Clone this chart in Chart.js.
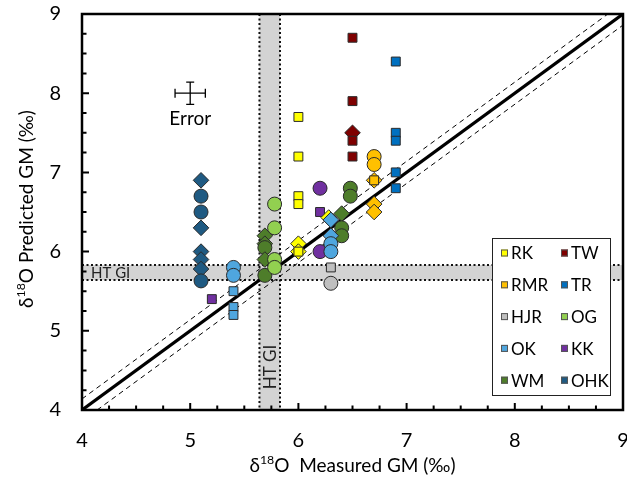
<!DOCTYPE html>
<html>
<head>
<meta charset="utf-8">
<title>δ18O predicted vs measured GM</title>
<script src="https://cdn.jsdelivr.net/npm/chart.js@4.4.0/dist/chart.umd.min.js"></script>
<style>
  body { margin: 0; background: #fff; }
  #chart { display: block; }
</style>
</head>
<body>
<canvas id="chart" width="627" height="479"></canvas>
<script>
const FONT = "Lato, 'Open Sans', sans-serif";

// Sites in legend order (read row by row)
const sites = ["RK", "TW", "RMR", "TR", "HJR", "OG", "OK", "KK", "WM", "OHK"];
const siteColors = ["#ffff00", "#7f0000", "#ffc000", "#0070c0", "#bfbfbf",
                    "#92d050", "#4fa6de", "#7030a0", "#4e7d2a", "#1f5a82"];

// Marker shapes: s = square, c = circle, d = diamond
const rkX = [6.0, 6.0, 6.0, 6.0, 6.28, 6.0, 6.0, 6.0];
const rkY = [7.7, 7.2, 6.7, 6.6, 6.43, 6.1, 6.0, 6.0];
const rkShape = ["s", "s", "s", "s", "d", "d", "d", "s"];

const twX = [6.5, 6.5, 6.5, 6.5, 6.5];
const twY = [8.7, 7.9, 7.5, 7.4, 7.2];
const twShape = ["s", "s", "d", "s", "s"];

const rmrX = [6.7, 6.7, 6.7, 6.7, 6.7, 6.7];
const rmrY = [7.2, 7.1, 6.9, 6.9, 6.6, 6.5];
const rmrShape = ["c", "c", "d", "s", "d", "d"];

const trX = [6.9, 6.9, 6.9, 6.9, 6.9];
const trY = [8.4, 7.5, 7.4, 7.0, 6.8];
const trShape = ["s", "s", "s", "s", "s"];

const hjrX = [6.3, 6.3];
const hjrY = [5.8, 5.6];
const hjrShape = ["s", "c"];

const ogX = [5.78, 5.78, 5.78, 5.78];
const ogY = [6.6, 6.3, 5.9, 5.8];
const ogShape = ["c", "c", "c", "c"];

const okX = [5.4, 5.4, 5.4, 5.4, 5.4, 6.3, 6.3, 6.3, 6.3];
const okY = [5.8, 5.7, 5.5, 5.3, 5.2, 6.4, 6.2, 6.1, 6.0];
const okShape = ["c", "c", "s", "s", "s", "d", "d", "c", "c"];

const kkX = [6.2, 6.2, 6.2, 5.2];
const kkY = [6.8, 6.5, 6.0, 5.4];
const kkShape = ["c", "s", "c", "s"];

const wmX = [5.69, 5.69, 5.69, 5.69, 5.69, 6.4, 6.4, 6.4, 6.48, 6.48];
const wmY = [6.2, 6.1, 6.05, 5.9, 5.7, 6.48, 6.3, 6.2, 6.8, 6.7];
const wmShape = ["d", "d", "c", "d", "c", "d", "c", "c", "c", "c"];

const ohkX = [5.1, 5.1, 5.1, 5.1, 5.1, 5.1, 5.1, 5.1];
const ohkY = [6.9, 6.7, 6.5, 6.3, 6.0, 5.9, 5.78, 5.63];
const ohkShape = ["d", "c", "c", "d", "d", "d", "d", "c"];

// 1:1 line and its dashed envelope
const oneToOneX = [4, 9];
const oneToOneY = [4, 9];
const upperX = [4, 8.86];
const upperY = [4.14, 9];
const lowerX = [4.14, 9];
const lowerY = [4, 8.86];

// HT GI band (same range on both axes)
const htGi = [5.64, 5.83];

// Analytical error cross
const errorCentre = [5.0, 8.0];
const errorHalf = [0.14, 0.14];

const axisMin = 4;
const axisMax = 9;
const minorStep = 0.25;

const styleOf = { s: "rect", c: "circle", d: "rectRot" };
const radiusOf = { s: 6.3, c: 7, d: 7.8 };

function toPoints(xs, ys) {
  return xs.map((x, i) => ({ x: x, y: ys[i] }));
}

function siteDataset(name, xs, ys, shapes, order) {
  const radii = shapes.map((s) => radiusOf[s]);
  return {
    label: name,
    data: toPoints(xs, ys),
    backgroundColor: siteColors[sites.indexOf(name)],
    borderColor: "#2a2a2a",
    borderWidth: 1,
    pointStyle: shapes.map((s) => styleOf[s]),
    pointRadius: radii,
    pointHoverRadius: radii,
    order: order,
  };
}

function lineDataset(xs, ys, width, dash) {
  return {
    data: toPoints(xs, ys),
    showLine: true,
    borderColor: "#000",
    borderWidth: width,
    borderDash: dash,
    pointRadius: 0,
    pointHoverRadius: 0,
    order: 100,
  };
}

// Text with a superscript part, e.g. δ18O
function richWidth(ctx, parts, size) {
  let w = 0;
  parts.forEach((p) => {
    ctx.font = (p.sup ? size * 0.65 : size) + "px " + FONT;
    w += ctx.measureText(p.text).width;
  });
  return w;
}

function drawRich(ctx, parts, cx, cy, size) {
  let x = cx - richWidth(ctx, parts, size) / 2;
  ctx.textAlign = "left";
  ctx.textBaseline = "middle";
  parts.forEach((p) => {
    ctx.font = (p.sup ? size * 0.65 : size) + "px " + FONT;
    ctx.fillText(p.text, x, p.sup ? cy - size * 0.3 : cy);
    x += ctx.measureText(p.text).width;
  });
}

const decorations = {
  id: "decorations",
  beforeDatasetsDraw(chart) {
    const { ctx, chartArea: a, scales } = chart;
    const x = scales.x, y = scales.y;
    const bx0 = x.getPixelForValue(htGi[0]), bx1 = x.getPixelForValue(htGi[1]);
    const by0 = y.getPixelForValue(htGi[1]), by1 = y.getPixelForValue(htGi[0]);
    ctx.save();
    ctx.fillStyle = "#d3d3d3";
    ctx.fillRect(a.left, by0, a.width, by1 - by0);
    ctx.fillRect(bx0, a.top, bx1 - bx0, a.height);

    ctx.strokeStyle = "#111";
    ctx.lineWidth = 2;
    ctx.setLineDash([2, 2.5]);
    ctx.beginPath();
    [by0, by1].forEach((py) => { ctx.moveTo(a.left, py); ctx.lineTo(a.right, py); });
    [bx0, bx1].forEach((px) => { ctx.moveTo(px, a.top); ctx.lineTo(px, a.bottom); });
    ctx.stroke();
    ctx.setLineDash([]);

    ctx.fillStyle = "#222";
    ctx.font = "15px " + FONT;
    ctx.textAlign = "left";
    ctx.textBaseline = "middle";
    ctx.fillText("HT GI", a.left + 9, (by0 + by1) / 2 + 1);

    ctx.translate((bx0 + bx1) / 2 + 1, 367);
    ctx.rotate(-Math.PI / 2);
    ctx.font = "17px " + FONT;
    ctx.textAlign = "center";
    ctx.fillText("HT GI", 0, 0);
    ctx.restore();
  },
  afterDatasetsDraw(chart) {
    const { ctx, scales } = chart;
    const x = scales.x, y = scales.y;
    const cx = x.getPixelForValue(errorCentre[0]);
    const cy = y.getPixelForValue(errorCentre[1]);
    const x0 = x.getPixelForValue(errorCentre[0] - errorHalf[0]);
    const x1 = x.getPixelForValue(errorCentre[0] + errorHalf[0]);
    const y0 = y.getPixelForValue(errorCentre[1] + errorHalf[1]);
    const y1 = y.getPixelForValue(errorCentre[1] - errorHalf[1]);
    ctx.save();
    ctx.strokeStyle = "#000";
    ctx.lineWidth = 1.3;
    ctx.beginPath();
    ctx.moveTo(x0, cy); ctx.lineTo(x1, cy);
    ctx.moveTo(x0, cy - 4.5); ctx.lineTo(x0, cy + 4.5);
    ctx.moveTo(x1, cy - 4.5); ctx.lineTo(x1, cy + 4.5);
    ctx.moveTo(cx, y0); ctx.lineTo(cx, y1);
    ctx.moveTo(cx - 4, y0); ctx.lineTo(cx + 4, y0);
    ctx.moveTo(cx - 4, y1); ctx.lineTo(cx + 4, y1);
    ctx.stroke();
    ctx.fillStyle = "#000";
    ctx.font = "19px " + FONT;
    ctx.textAlign = "center";
    ctx.textBaseline = "middle";
    ctx.fillText("Error", cx, cy + 26);
    ctx.restore();
  },
  afterDraw(chart) {
    const { ctx, chartArea: a, scales } = chart;
    const x = scales.x, y = scales.y;
    ctx.save();
    // inward ticks on the bottom and left axes
    ctx.strokeStyle = "#000";
    ctx.lineWidth = 2;
    ctx.beginPath();
    for (let v = axisMin; v <= axisMax + 1e-9; v += minorStep) {
      const len = Number.isInteger(v) ? 7 : 4.5;
      const px = x.getPixelForValue(v);
      ctx.moveTo(px, a.bottom); ctx.lineTo(px, a.bottom - len);
      const py = y.getPixelForValue(v);
      ctx.moveTo(a.left, py); ctx.lineTo(a.left + len, py);
    }
    ctx.stroke();

    // plot frame
    ctx.lineWidth = 2.5;
    ctx.strokeRect(a.left, a.top, a.width, a.height);

    // axis titles
    ctx.fillStyle = "#000";
    drawRich(ctx, [{ text: "δ" }, { text: "18", sup: true }, { text: "O  Measured GM (‰)" }],
      (a.left + a.right) / 2, 466, 19);
    ctx.save();
    ctx.translate(27, 209);
    ctx.rotate(-Math.PI / 2);
    drawRich(ctx, [{ text: "δ" }, { text: "18", sup: true }, { text: "O Predicted GM (‰)" }],
      0, 0, 19);
    ctx.restore();

    // legend box, two columns
    const lx = 492, ly = 238, lw = 118, lh = 157;
    ctx.fillStyle = "#fff";
    ctx.fillRect(lx, ly, lw, lh);
    ctx.strokeStyle = "#222";
    ctx.lineWidth = 1;
    ctx.strokeRect(lx + 0.5, ly + 0.5, lw, lh);
    ctx.font = "17px " + FONT;
    ctx.textAlign = "left";
    ctx.textBaseline = "middle";
    sites.forEach((name, i) => {
      const col = i % 2, row = Math.floor(i / 2);
      const mx = lx + 9 + col * 60;
      const my = ly + 15 + row * 31.8;
      ctx.fillStyle = siteColors[i];
      ctx.fillRect(mx, my - 3.5, 7, 7);
      ctx.strokeStyle = "#555";
      ctx.strokeRect(mx + 0.5, my - 3.5 + 0.5, 6, 6);
      ctx.fillStyle = "#000";
      ctx.fillText(name, mx + 10, my + 1);
    });
    ctx.restore();
  },
};

const tickFont = { family: FONT, size: 20 };

new Chart(document.getElementById("chart"), {
  type: "scatter",
  data: {
    datasets: [
      siteDataset("TR", trX, trY, trShape, 1),
      siteDataset("TW", twX, twY, twShape, 2),
      siteDataset("RMR", rmrX, rmrY, rmrShape, 3),
      siteDataset("HJR", hjrX, hjrY, hjrShape, 4),
      siteDataset("OK", okX, okY, okShape, 5),
      siteDataset("OG", ogX, ogY, ogShape, 6),
      siteDataset("RK", rkX, rkY, rkShape, 7),
      siteDataset("KK", kkX, kkY, kkShape, 8),
      siteDataset("WM", wmX, wmY, wmShape, 9),
      siteDataset("OHK", ohkX, ohkY, ohkShape, 10),
      lineDataset(oneToOneX, oneToOneY, 3.2, []),
      lineDataset(upperX, upperY, 1, [5, 4]),
      lineDataset(lowerX, lowerY, 1, [5, 4]),
    ],
  },
  options: {
    responsive: false,
    animation: false,
    devicePixelRatio: 1,
    layout: { autoPadding: false, padding: { top: 14, right: 4, left: 0, bottom: 0 } },
    plugins: {
      legend: { display: false },
      tooltip: { enabled: false },
    },
    scales: {
      x: {
        type: "linear",
        min: axisMin,
        max: axisMax,
        grid: { display: false, drawTicks: false },
        border: { display: false },
        ticks: { stepSize: 1, color: "#000", font: tickFont, padding: 19, maxRotation: 0 },
        afterFit(scale) {
          scale.height = 69;
          scale.paddingLeft = 0;
          scale.paddingRight = 0;
        },
      },
      y: {
        type: "linear",
        min: axisMin,
        max: axisMax,
        grid: { display: false, drawTicks: false },
        border: { display: false },
        ticks: { stepSize: 1, color: "#000", font: tickFont, padding: 21 },
        afterFit(scale) {
          scale.width = 82;
          scale.paddingTop = 0;
          scale.paddingBottom = 0;
        },
      },
    },
  },
  plugins: [decorations],
});
</script>
</body>
</html>
